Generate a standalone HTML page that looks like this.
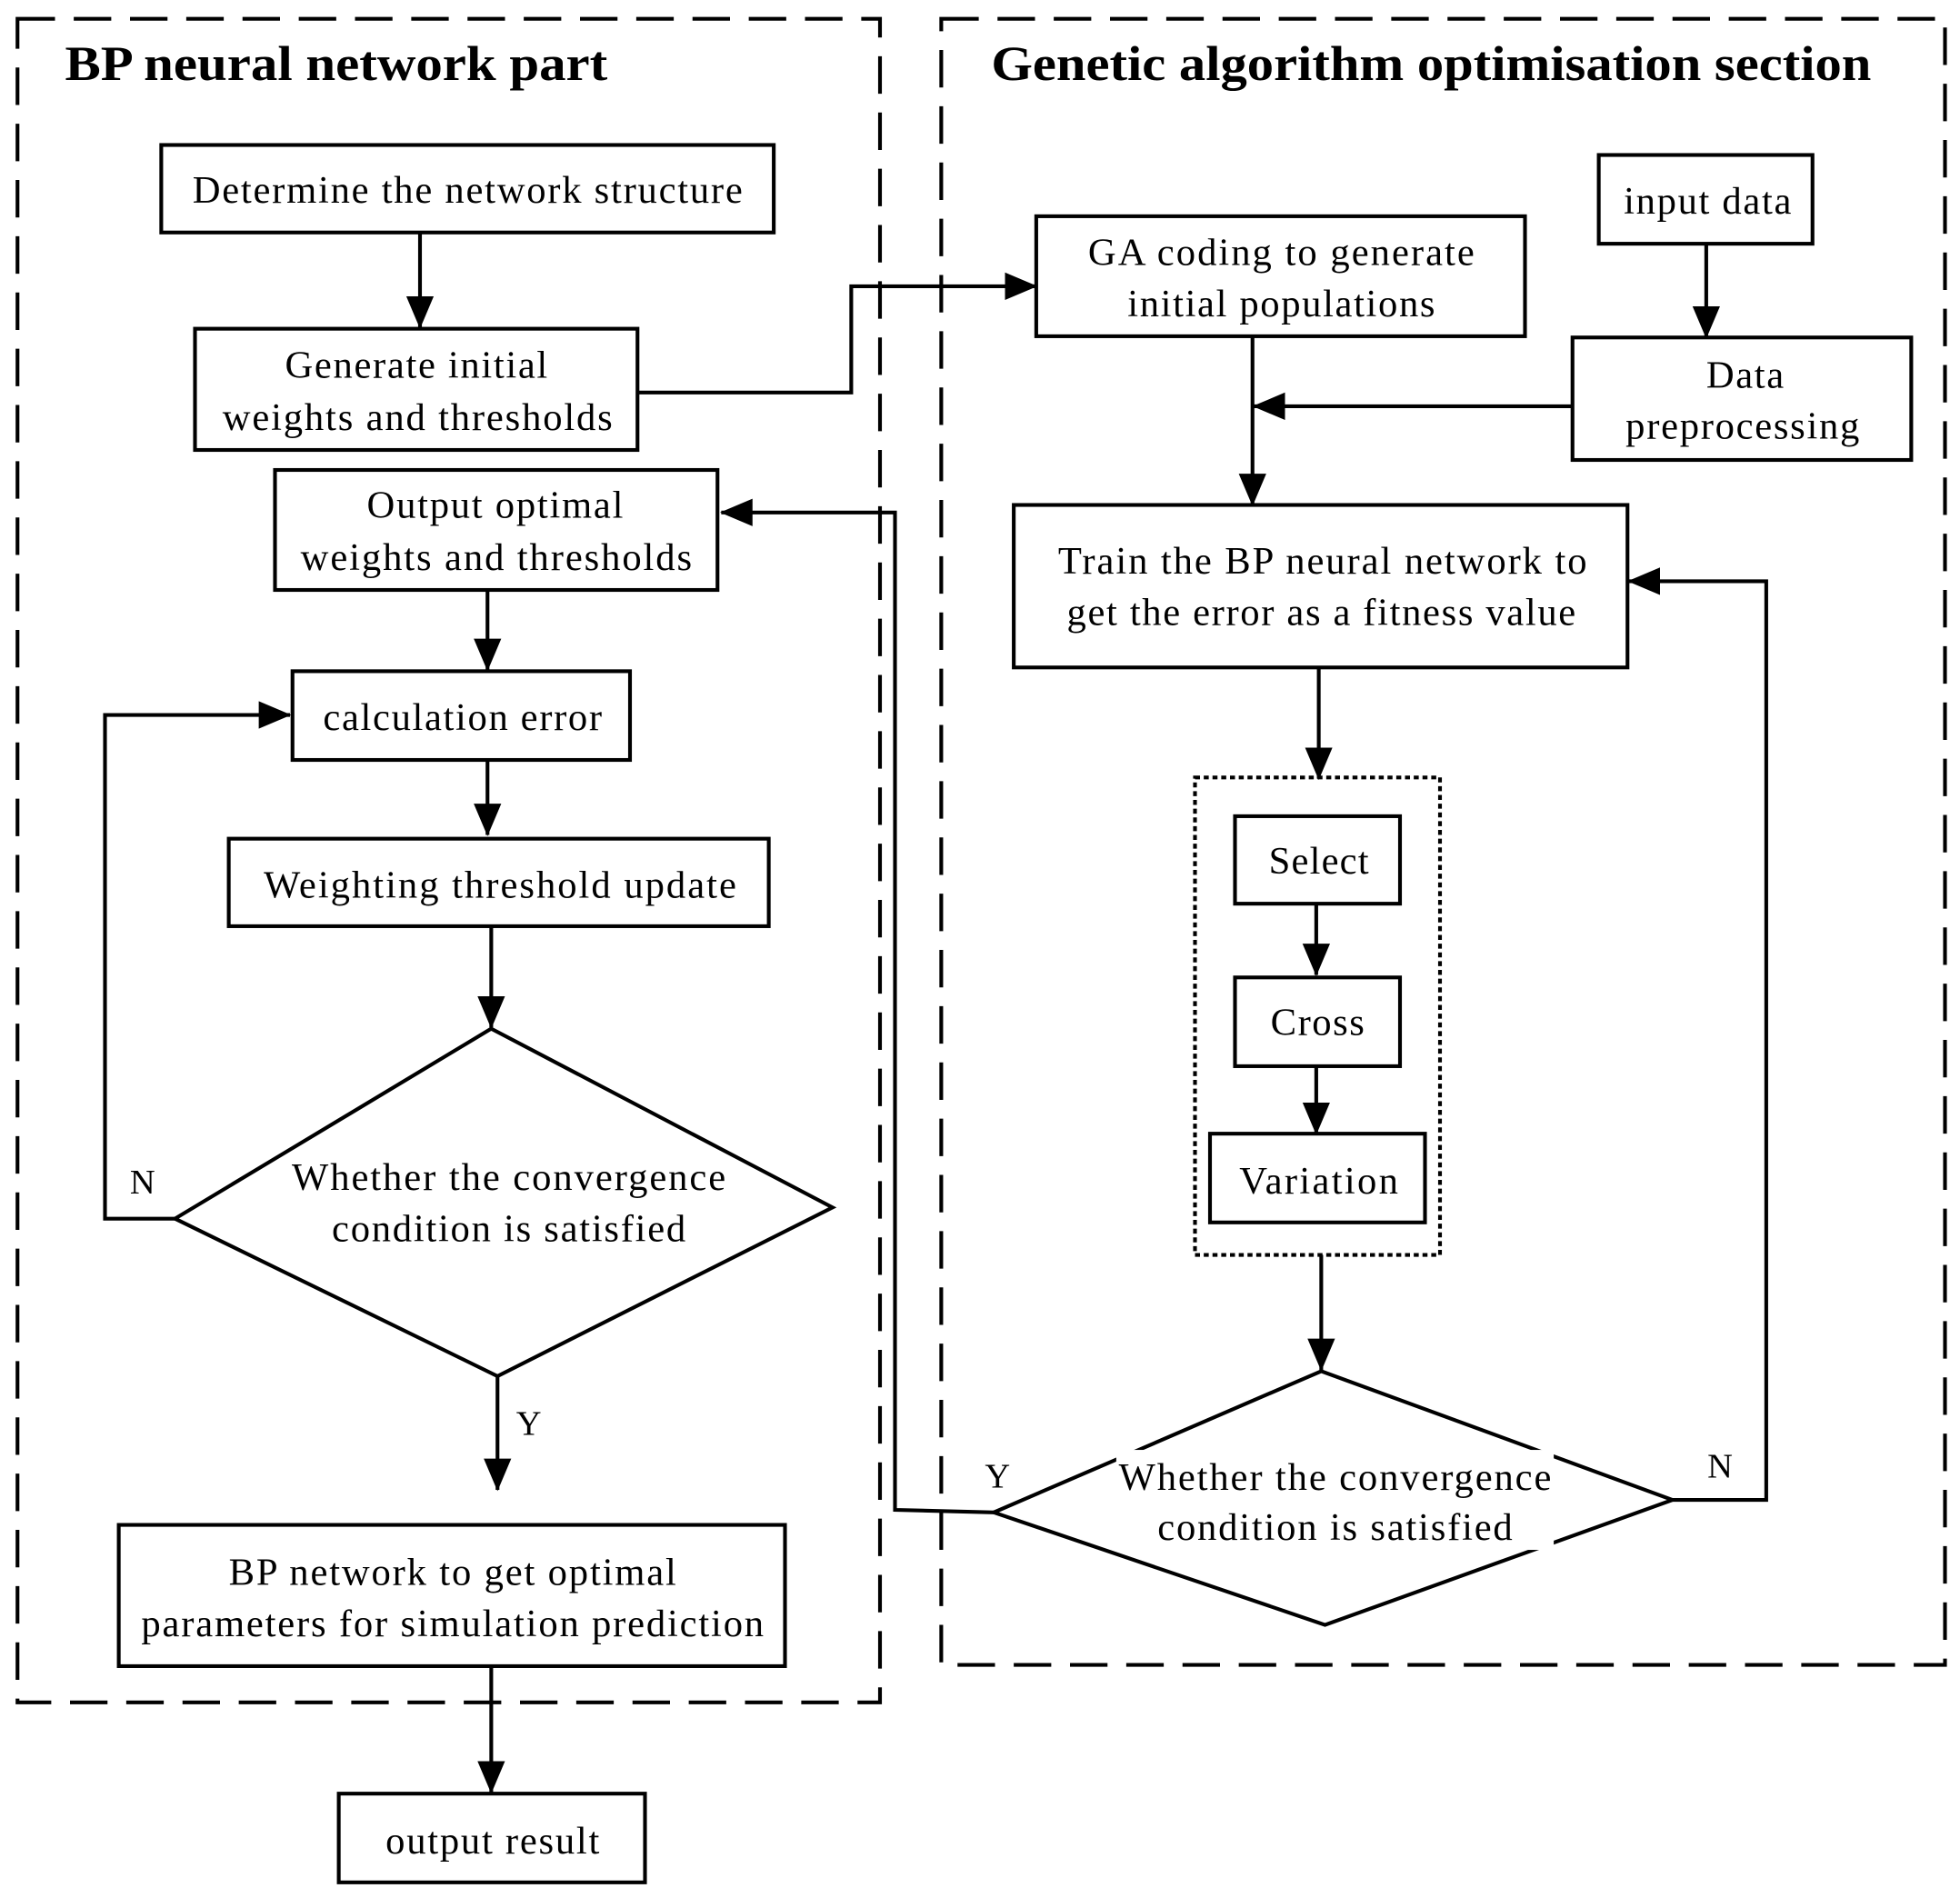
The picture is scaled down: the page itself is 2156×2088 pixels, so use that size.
<!DOCTYPE html>
<html><head><meta charset="utf-8"><style>
html,body{margin:0;padding:0;background:#fff;}
svg{display:block;}
text{font-family:"Liberation Serif",serif;font-size:31px;fill:#000;text-anchor:middle;}
</style></head><body>
<svg width="2156" height="2088" viewBox="0 0 1568 1518.5" preserveAspectRatio="none" xmlns="http://www.w3.org/2000/svg">
<defs>
<marker id="b" markerWidth="26" markerHeight="26" refX="25" refY="13" orient="auto" markerUnits="userSpaceOnUse" viewBox="0 0 26 26"><path d="M0,2 L26,13 L0,24 z" fill="#000"/></marker></defs>
<g fill="none" stroke="#000" stroke-width="3">
<rect x="14" y="15" width="690" height="1347" stroke-dasharray="30,15"/>
<rect x="753" y="15" width="803" height="1317" stroke-dasharray="30,15"/>
<rect x="956" y="622" width="196" height="382" stroke-dasharray="4,3"/>
<rect x="129" y="116" width="490" height="70"/>
<rect x="156" y="263" width="354" height="97"/>
<rect x="829" y="173" width="391" height="96"/>
<rect x="1279" y="124" width="171" height="71"/>
<rect x="1258" y="270" width="271" height="98"/>
<rect x="811" y="404" width="491" height="130"/>
<rect x="988" y="653" width="132" height="70"/>
<rect x="988" y="782" width="132" height="71"/>
<rect x="968" y="907" width="172" height="71"/>
<rect x="220" y="376" width="354" height="96"/>
<rect x="234" y="537" width="270" height="71"/>
<rect x="183" y="671" width="432" height="70"/>
<rect x="95" y="1220" width="533" height="113"/>
<rect x="271" y="1435" width="245" height="71"/>
<path d="M393,823 L666,966 L398,1101 L140,975 Z"/>
<path d="M1057,1097 L1338,1200 L1060,1300 L795,1210 Z"/>
</g>
<g fill="none" stroke="#000" stroke-width="3" marker-end="url(#b)">
<path d="M336,186 V262"/>
<path d="M510,314 H681 V229 H829"/>
<path d="M1365,195 V270"/>
<path d="M1258,325 H1003"/>
<path d="M1002,269 V404"/>
<path d="M1055,534 V623"/>
<path d="M1053,723 V780"/>
<path d="M1053,853 V907"/>
<path d="M1057,1004 V1096"/>
<path d="M1338,1200 H1413 V465 H1303"/>
<path d="M795,1210 L716,1208 V410 H577"/>
<path d="M390,472 V536"/>
<path d="M390,608 V668"/>
<path d="M393,741 V822"/>
<path d="M140,975 H84 V572 H232"/>
<path d="M398,1101 V1192"/>
<path d="M393,1333 V1434"/>
</g>
<text x="52" y="64" textLength="434" lengthAdjust="spacingAndGlyphs" style="text-anchor:start;font-weight:bold;font-size:39px">BP neural network part</text>
<text x="793" y="64" textLength="704" lengthAdjust="spacingAndGlyphs" style="text-anchor:start;font-weight:bold;font-size:39px">Genetic algorithm optimisation section</text>
<text x="374" y="162" textLength="440">Determine the network structure</text>
<text x="333" y="302" textLength="210">Generate initial</text>
<text x="334" y="344" textLength="312">weights and thresholds</text>
<text x="1025" y="212" textLength="309">GA coding to generate</text>
<text x="1025" y="253" textLength="246">initial populations</text>
<text x="1366" y="171" textLength="134">input data</text>
<text x="1396" y="310" textLength="62">Data</text>
<text x="1394" y="351" textLength="187">preprocessing</text>
<text x="1058" y="459" textLength="423">Train the BP neural network to</text>
<text x="1057" y="500" textLength="407">get the error as a fitness value</text>
<text x="1055" y="699" textLength="80">Select</text>
<text x="1054" y="828" textLength="75">Cross</text>
<text x="1055" y="955" textLength="127">Variation</text>
<rect x="893" y="1160" width="350" height="80" fill="#fff"/>
<text x="1068" y="1192" textLength="346">Whether the convergence</text>
<text x="1068" y="1232" textLength="284">condition is satisfied</text>
<text x="1376" y="1182" style="font-size:28px">N</text>
<text x="798" y="1190" style="font-size:28px">Y</text>
<text x="396" y="414" textLength="205">Output optimal</text>
<text x="397" y="456" textLength="313">weights and thresholds</text>
<text x="370" y="584" textLength="223">calculation error</text>
<text x="400" y="718" textLength="378">Weighting threshold update</text>
<text x="407" y="952" textLength="347">Whether the convergence</text>
<text x="407" y="993" textLength="283">condition is satisfied</text>
<text x="114" y="955" style="font-size:28px">N</text>
<text x="423" y="1148" style="font-size:28px">Y</text>
<text x="362" y="1268" textLength="358">BP network to get optimal</text>
<text x="362" y="1309" textLength="498">parameters for simulation prediction</text>
<text x="394" y="1483" textLength="171">output result</text>
</svg>
</body></html>
